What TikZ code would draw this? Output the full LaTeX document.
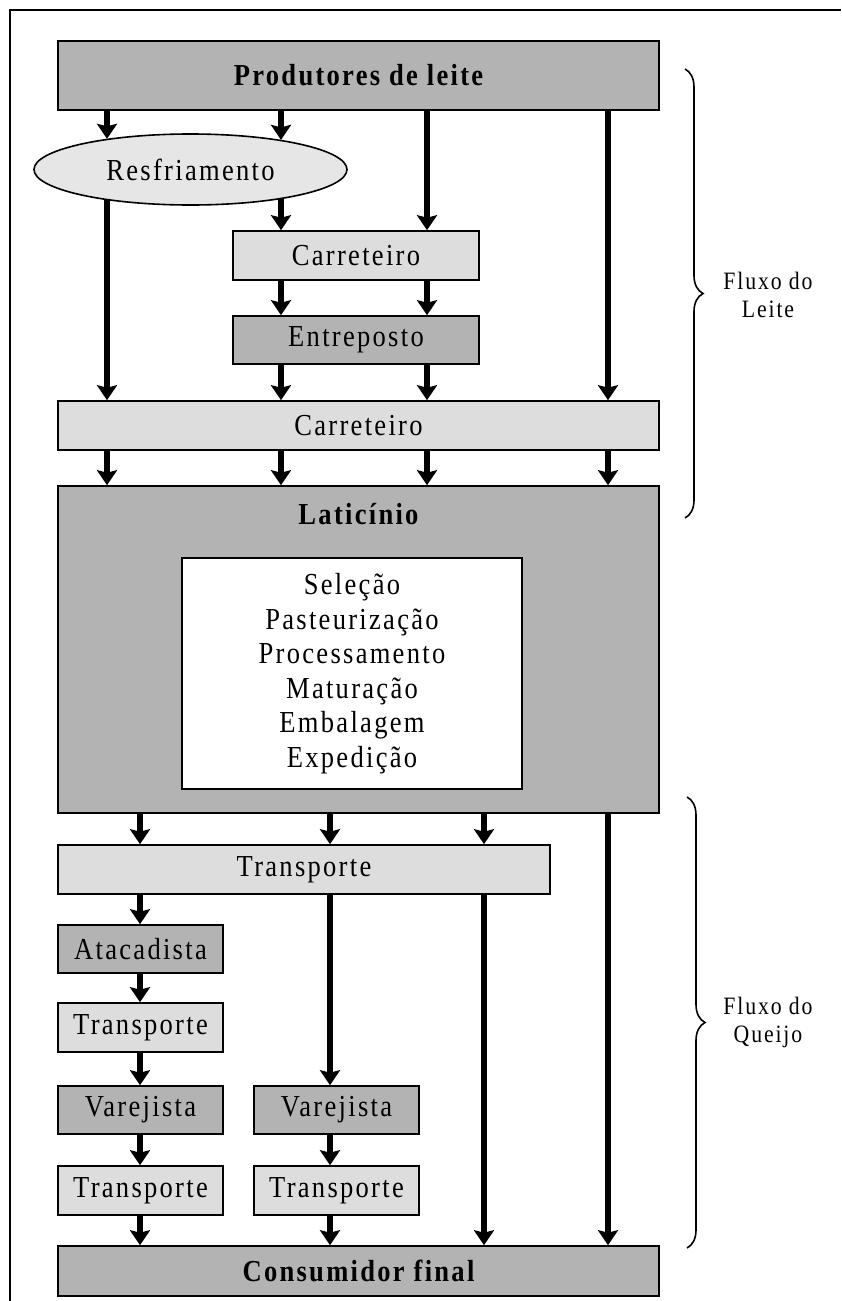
\documentclass[tikz,border=0pt]{standalone}
\usepackage{fontspec}
\setmainfont{Liberation Serif}[FakeStretch=0.87, LetterSpace=7.5]
\usepackage{tikz}
\usetikzlibrary{
  arrows.meta, positioning, shapes.geometric,
  calc, decorations.pathreplacing
}
\definecolor{boxdark}{RGB}{179, 179, 179}
\definecolor{boxlight}{RGB}{221, 221, 221}
\definecolor{ovalfill}{RGB}{230, 230, 230}

\begin{document}
\begin{tikzpicture}[
    x=1pt, y=-1pt,
    box/.style={draw, line width=1.6pt, inner sep=0pt, align=center,
                font=\fontsize{30.5}{34.5}\selectfont},
    darkbox/.style={box, fill=boxdark},
    lightbox/.style={box, fill=boxlight},
    title/.style={font=\fontsize{30.5}{34}\selectfont\bfseries, inner sep=0pt},
    flow/.style={-{Stealth[length=15pt, width=20pt, inset=2.5pt]},
                 line width=6pt},
    bracket/.style={decorate, decoration={brace, amplitude=18pt},
                    line width=1.6pt},
    flowlabel/.style={align=center, inner sep=0pt,
                      font=\fontsize{25}{28}\selectfont},
  ]
    \useasboundingbox (0,0) rectangle (841,1301);
    \draw[line width=1.6pt] (841,10) -- (10,10) -- (10,1301);

    % Fluxo do leite
    \node[darkbox, minimum width=601pt, minimum height=69pt] (prod) at (358.5,75.5)
      {\bfseries\fontsize{30.5}{34}\selectfont Produtores de leite};
    \node[box, ellipse, fill=ovalfill, minimum width=313pt, minimum height=71pt]
      (resf) at (190.5,169.5) {Resfriamento};
    \node[lightbox, minimum width=246pt, minimum height=49pt] (carra) at (356,255.5)
      {Carreteiro};
    \node[darkbox, minimum width=246pt, minimum height=48pt] (entr) at (356,340)
      {Entreposto};
    \node[lightbox, minimum width=601pt, minimum height=49pt] (carrb) at (358.5,425.5)
      {Carreteiro};

    % Laticinio
    \node[darkbox, minimum width=601pt, minimum height=327pt] (latic) at (358.5,649.5) {};
    \node[title] (lattitle) at (358.5,514) {Laticínio};
    \node[box, fill=white, minimum width=340pt, minimum height=231pt] (etapas)
      at (352,673.5)
      {Seleção\\Pasteurização\\Processamento\\Maturação\\Embalagem\\Expedição};

    % Fluxo do queijo
    \node[lightbox, minimum width=492pt, minimum height=49pt] (transp) at (304,869.5)
      {Transporte};
    \node[darkbox, minimum width=165pt, minimum height=48pt] (atac) at (140.5,949)
      {Atacadista};
    \node[lightbox, minimum width=165pt, minimum height=49pt] (transpa) at (140.5,1027.5)
      {Transporte};
    \node[darkbox, minimum width=165pt, minimum height=48pt] (vareja) at (140.5,1110)
      {Varejista};
    \node[darkbox, minimum width=165pt, minimum height=48pt] (varejb) at (336.5,1110)
      {Varejista};
    \node[lightbox, minimum width=165pt, minimum height=49pt] (transpb) at (140.5,1190.5)
      {Transporte};
    \node[lightbox, minimum width=165pt, minimum height=49pt] (transpc) at (336.5,1190.5)
      {Transporte};
    \node[darkbox, minimum width=601pt, minimum height=50pt] (cons) at (358.5,1271)
      {\bfseries\fontsize{30.5}{34}\selectfont Consumidor final};

    % columns of the arrows
    \coordinate (ka) at (107,0);
    \coordinate (kb) at (281,0);
    \coordinate (kc) at (427,0);
    \coordinate (kd) at (608,0);
    \coordinate (ke) at (140,0);
    \coordinate (kf) at (330,0);
    \coordinate (kg) at (484,0);

    \draw[flow] (ka |- prod.south) -- (ka |- resf.160);
    \draw[flow] (kb |- prod.south) -- (kb |- resf.18);
    \draw[flow] (kc |- prod.south) -- (kc |- carra.north);
    \draw[flow] (kd |- prod.south) -- (kd |- carrb.north);
    \draw[flow] (ka |- resf.200) -- (ka |- carrb.north);
    \draw[flow] (kb |- resf.-18) -- (kb |- carra.north);
    \draw[flow] (kb |- carra.south) -- (kb |- entr.north);
    \draw[flow] (kc |- carra.south) -- (kc |- entr.north);
    \draw[flow] (kb |- entr.south) -- (kb |- carrb.north);
    \draw[flow] (kc |- entr.south) -- (kc |- carrb.north);
    \draw[flow] (ka |- carrb.south) -- (ka |- latic.north);
    \draw[flow] (kb |- carrb.south) -- (kb |- latic.north);
    \draw[flow] (kc |- carrb.south) -- (kc |- latic.north);
    \draw[flow] (kd |- carrb.south) -- (kd |- latic.north);

    \draw[flow] (ke |- latic.south) -- (ke |- transp.north);
    \draw[flow] (kf |- latic.south) -- (kf |- transp.north);
    \draw[flow] (kg |- latic.south) -- (kg |- transp.north);
    \draw[flow] (kd |- latic.south) -- (kd |- cons.north);
    \draw[flow] (ke |- transp.south) -- (ke |- atac.north);
    \draw[flow] (kf |- transp.south) -- (kf |- varejb.north);
    \draw[flow] (kg |- transp.south) -- (kg |- cons.north);
    \draw[flow] (ke |- atac.south) -- (ke |- transpa.north);
    \draw[flow] (ke |- transpa.south) -- (ke |- vareja.north);
    \draw[flow] (ke |- vareja.south) -- (ke |- transpb.north);
    \draw[flow] (kf |- varejb.south) -- (kf |- transpc.north);
    \draw[flow] (ke |- transpb.south) -- (ke |- cons.north);
    \draw[flow] (kf |- transpc.south) -- (kf |- cons.north);

    % braces
    \coordinate (leitetop) at (685,69);
    \coordinate (leitebot) at (685,518);
    \coordinate (queijotop) at (687,797);
    \coordinate (queijobot) at (687,1248);
    \draw[bracket] (leitetop) -- (leitebot);
    \draw[bracket] (queijotop) -- (queijobot);
    \node[flowlabel] (lblleite) at (768,295) {Fluxo do\\Leite};
    \node[flowlabel] (lblqueijo) at (768,1022) {Fluxo do\\Queijo};
\end{tikzpicture}
\end{document}
